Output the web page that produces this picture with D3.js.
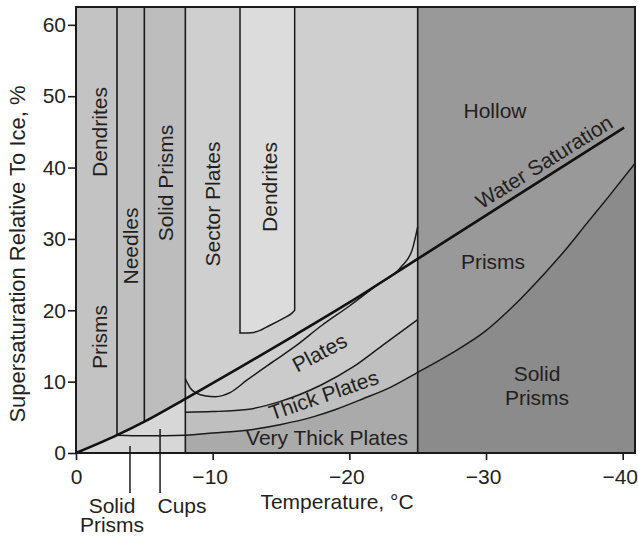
<!DOCTYPE html>
<html>
<head>
<meta charset="utf-8">
<script src="https://cdn.jsdelivr.net/npm/d3@7"></script>
<style>
	body { margin: 0; background: #fff; }
	text { font-family: "Liberation Sans", Arial, Helvetica, sans-serif; fill: #231f20; }
</style>
</head>
<body>
<div id="chart"></div>
<script>
// temperature (deg C) where the vertical habit bands change
const bandEdges = [0, -3, -5, -8, -25, -40.9];
const dendriteEdges = [-12, -16];
const xTicks = [0, -10, -20, -30, -40];
const yTicks = [0, 10, 20, 30, 40, 50, 60];

// water saturation, supersaturation relative to ice (%)
const waterT = [0, -3, -5, -8, -12, -16, -20, -25, -30, -35, -40.1];
const waterS = [0, 2.5, 4.4, 7.6, 12.0, 16.5, 21.1, 27.2, 33.3, 39.4, 45.6];

// lower boundary: solid prisms / very thick plates / solid prisms
const veryT = [-3, -5, -8, -10, -12.5, -15, -17.4, -19, -21, -23, -25, -27.5, -29.9, -32, -34.3, -36, -37.3, -39, -40.9];
const veryS = [2.5, 2.4, 2.5, 2.8, 3.2, 4.0, 5.1, 6.1, 7.6, 9.2, 11.3, 14.0, 17.0, 20.6, 25.2, 28.9, 32.0, 36.0, 40.6];

// thick plates upper boundary
const thickT = [-8, -10, -12.5, -14.9, -17.9, -20.3, -22.5, -25];
const thickS = [5.7, 5.8, 6.1, 7.2, 9.5, 12.1, 15.2, 18.7];

// plates / sector plates boundary
const platesT = [-8, -8.4, -8.8, -9.5, -10.2, -11.3, -12.5, -14.5, -16, -18, -20, -22, -23.8, -24.6, -25];
const platesS = [10.4, 9.0, 8.4, 8.0, 7.9, 8.5, 10.2, 12.9, 14.9, 17.9, 20.6, 23.5, 26.1, 28.5, 31.7];

// bottom of the dendrite pocket between -12 and -16
const dendT = [-12, -13, -14.2, -15.2, -15.8, -16];
const dendS = [16.8, 16.9, 17.9, 18.9, 19.6, 20.0];

const width = 638, height = 537;
const margin = {top: 7, right: 3, bottom: 84, left: 76};
const innerW = width - margin.left - margin.right;
const innerH = height - margin.top - margin.bottom;

const x = d3.scaleLinear().domain([0, -40.9]).range([0, innerW]);
const y = d3.scaleLinear().domain([0, 62.5]).range([innerH, 0]);

const bandColors = ["#c3c3c3", "#bfbfbf", "#bdbdbd", "#cfcfcf", "#999999"];

const svg = d3.select("#chart").append("svg")
	.attr("width", width)
	.attr("height", height);

const defs = svg.append("defs");
defs.append("clipPath").attr("id", "clipMid")
	.append("rect")
	.attr("x", x(-8)).attr("y", 0)
	.attr("width", x(-25) - x(-8)).attr("height", innerH);
defs.append("clipPath").attr("id", "clipRight")
	.append("rect")
	.attr("x", x(-25)).attr("y", 0)
	.attr("width", x(-40.9) - x(-25)).attr("height", innerH);

const g = svg.append("g")
	.attr("transform", "translate(" + margin.left + "," + margin.top + ")");

function pts(ts, ss) { return ts.map((t, i) => [t, ss[i]]); }

const line = d3.line()
	.x(d => x(d[0])).y(d => y(d[1]))
	.curve(d3.curveMonotoneX);
const areaBelow = d3.area()
	.x(d => x(d[0])).y0(y(0)).y1(d => y(d[1]))
	.curve(d3.curveMonotoneX);
const areaAbove = d3.area()
	.x(d => x(d[0])).y0(y(62.5)).y1(d => y(d[1]))
	.curve(d3.curveMonotoneX);

//background bands
g.selectAll(".band")
	.data(d3.pairs(bandEdges))
	.enter().append("rect")
	.attr("class", "band")
	.attr("x", d => x(d[0]))
	.attr("y", 0)
	.attr("width", d => x(d[1]) - x(d[0]))
	.attr("height", innerH)
	.style("fill", (d, i) => bandColors[i]);

//under water saturation for the warm side
g.append("path")
	.attr("d", areaBelow(pts(waterT, waterS).filter(d => d[0] >= -8)))
	.style("fill", "#d7d7d7");

//plate regions
const mid = g.append("g").attr("clip-path", "url(#clipMid)");
mid.append("path").attr("d", areaBelow(pts(platesT, platesS))).style("fill", "#cbcbcb");
mid.append("path").attr("d", areaBelow(pts(thickT, thickS))).style("fill", "#bfbfbf");
mid.append("path").attr("d", areaBelow(pts(veryT, veryS))).style("fill", "#aaaaaa");

//solid prisms (cold side)
g.append("g").attr("clip-path", "url(#clipRight)")
	.append("path").attr("d", areaBelow(pts(veryT, veryS))).style("fill", "#8b8b8b");

//dendrite pocket
g.append("path")
	.attr("d", areaAbove(pts(dendT, dendS)))
	.style("fill", "#dcdcdc")
	.style("stroke", "#1a1a1a")
	.style("stroke-width", 1.5);

//vertical band boundaries
const footOf = t => t > -8 ? waterS[waterT.indexOf(t)] : 0;
g.selectAll(".edge")
	.data(bandEdges.slice(1, 5))
	.enter().append("line")
	.attr("class", "edge")
	.attr("x1", d => x(d)).attr("x2", d => x(d))
	.attr("y1", 0)
	.attr("y2", d => y(footOf(d)))
	.style("stroke", "#1a1a1a")
	.style("stroke-width", 1.6);

//boundary curves
[[platesT, platesS], [thickT, thickS], [veryT, veryS]].forEach(c => {
	g.append("path")
		.attr("d", line(pts(c[0], c[1])))
		.style("fill", "none")
		.style("stroke", "#1a1a1a")
		.style("stroke-width", 1.5);
});

//water saturation
g.append("path")
	.attr("d", line(pts(waterT, waterS)))
	.style("fill", "none")
	.style("stroke", "#111")
	.style("stroke-width", 2.6);

//frame
g.append("rect")
	.attr("width", innerW).attr("height", innerH)
	.style("fill", "none")
	.style("stroke", "#1a1a1a")
	.style("stroke-width", 2);

//axes
const xAxis = g.append("g")
	.attr("transform", "translate(0," + innerH + ")")
	.call(d3.axisBottom(x).tickValues(xTicks).tickFormat(d3.format("d")).tickSize(7).tickPadding(9));
const yAxis = g.append("g")
	.call(d3.axisLeft(y).tickValues(yTicks).tickFormat(d3.format("d")).tickSize(8).tickPadding(2));
[xAxis, yAxis].forEach(a => {
	a.select(".domain").remove();
	a.selectAll("line").style("stroke", "#1a1a1a").style("stroke-width", 1.6);
	a.selectAll("text").style("font-size", "21px").style("fill", "#231f20");
});
// minus-signed labels sit a little left of their ticks
xAxis.selectAll("text").attr("dx", d => d < 0 ? -3 : 0);

//axis titles
svg.append("text")
	.attr("x", 337).attr("y", 509)
	.attr("text-anchor", "middle")
	.style("font-size", "21px")
	.text("Temperature, °C");
svg.append("text")
	.attr("transform", "translate(25,254) rotate(-90)")
	.attr("text-anchor", "middle")
	.style("font-size", "22px")
	.text("Supersaturation Relative To Ice, %");

//habit labels
const vLabels = [
	["Dendrites", 107, 132], ["Prisms", 107, 337], ["Needles", 138, 246],
	["Solid Prisms", 173, 183], ["Sector Plates", 220, 204], ["Dendrites", 277, 187]
];
svg.selectAll(".vlab")
	.data(vLabels)
	.enter().append("text")
	.attr("class", "vlab")
	.attr("transform", d => "translate(" + d[1] + "," + d[2] + ") rotate(-90)")
	.attr("text-anchor", "middle")
	.style("font-size", "21px")
	.text(d => d[0]);

const hLabels = [
	["Hollow", 495, 118], ["Prisms", 493, 269], ["Solid", 537, 381],
	["Prisms", 537, 405], ["Very Thick Plates", 327, 445]
];
svg.selectAll(".hlab")
	.data(hLabels)
	.enter().append("text")
	.attr("class", "hlab")
	.attr("x", d => d[1]).attr("y", d => d[2])
	.attr("text-anchor", "middle")
	.style("font-size", "21px")
	.text(d => d[0]);

const rLabels = [
	["Water Saturation", 548, 168, -32], ["Plates", 323, 359, -28], ["Thick Plates", 326, 402, -19]
];
svg.selectAll(".rlab")
	.data(rLabels)
	.enter().append("text")
	.attr("class", "rlab")
	.attr("transform", d => "translate(" + d[1] + "," + d[2] + ") rotate(" + d[3] + ")")
	.attr("text-anchor", "middle")
	.style("font-size", "21px")
	.text(d => d[0]);

//pointer labels under the axis
const pointers = [[-3.95, 0.98], [-6.15, 3.36]];
g.selectAll(".ptr")
	.data(pointers)
	.enter().append("line")
	.attr("class", "ptr")
	.attr("x1", d => x(d[0])).attr("x2", d => x(d[0]))
	.attr("y1", d => y(d[1]))
	.attr("y2", innerH + 40)
	.style("stroke", "#1a1a1a")
	.style("stroke-width", 1.5);

svg.append("text").attr("x", 112).attr("y", 513).attr("text-anchor", "middle")
	.style("font-size", "21px").text("Solid");
svg.append("text").attr("x", 112).attr("y", 532).attr("text-anchor", "middle")
	.style("font-size", "21px").text("Prisms");
svg.append("text").attr("x", 182).attr("y", 513).attr("text-anchor", "middle")
	.style("font-size", "21px").text("Cups");
</script>
</body>
</html>
